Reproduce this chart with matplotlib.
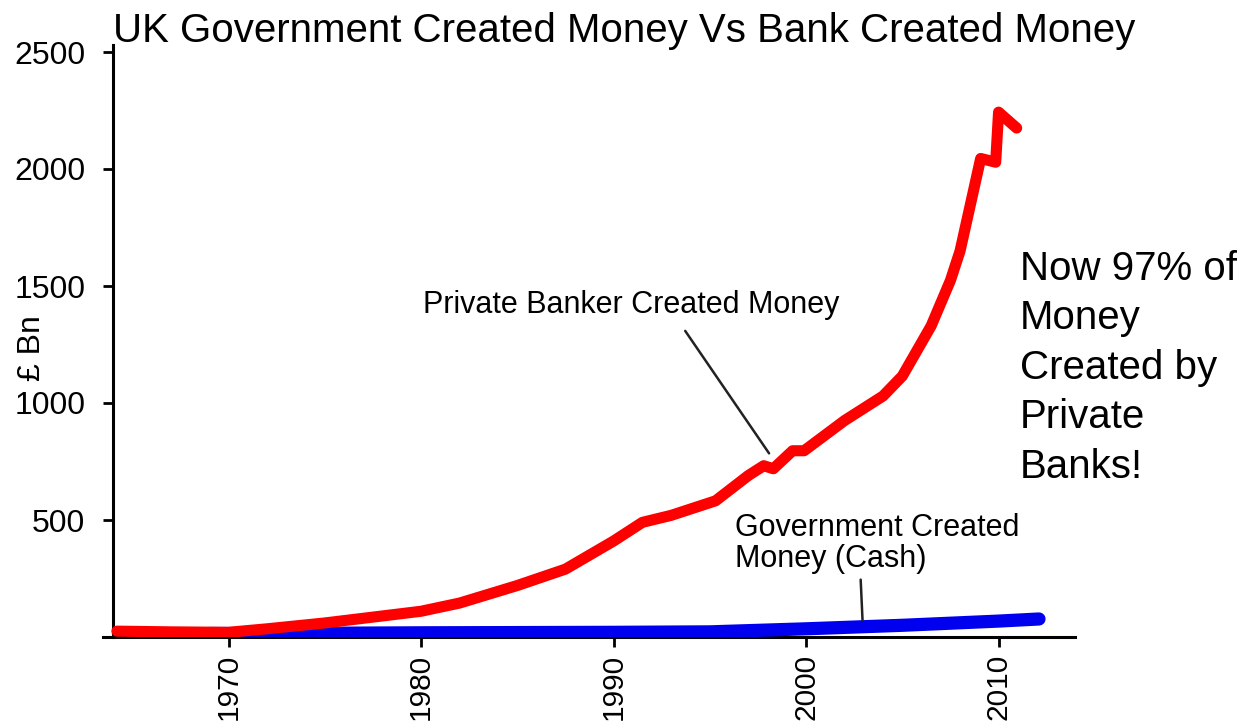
import matplotlib.pyplot as plt

plt.rcParams['font.family'] = ['Liberation Sans', 'DejaVu Sans']

# bank created money (broad money minus cash), £ Bn
bank_years = [1964.2, 1967, 1970, 1972, 1975, 1978, 1980, 1982, 1985, 1987.5,
              1990, 1991.5, 1993, 1995.3, 1997, 1997.8, 1998.3, 1999.3, 1999.9,
              2002, 2004, 2005, 2006.5, 2007.5, 2008, 2009.07, 2009.85, 2010.0, 2010.94]
bank_money = [25, 22, 20, 35, 60, 90, 110, 145, 220, 290,
              410, 490, 520, 582, 690, 732, 719, 796, 796,
              925, 1030, 1115, 1330, 1524, 1650, 2045, 2029, 2243, 2175]

# government created money (cash), £ Bn
gov_years = [1969, 1972, 1975, 1980, 1985, 1990, 1995, 2000, 2005, 2010, 2012.1]
gov_money = [15, 15, 16, 18, 19, 20, 22, 35, 50, 68, 77]

y_ticks = [500, 1000, 1500, 2000, 2500]
x_ticks = [1970, 1980, 1990, 2000, 2010]

fig = plt.figure(figsize=(12.5, 7.27), dpi=100)
ax = fig.add_axes([103.4 / 1250, 1 - 637 / 727, (1075 - 103.4) / 1250, (637 - 52) / 727])

ax.plot(gov_years, gov_money, color='#0000ee', lw=9.5, solid_capstyle='round', zorder=3)
ax.plot(bank_years, bank_money, color='#ff0000', lw=8, solid_capstyle='round',
        solid_joinstyle='round', zorder=4)

ax.set_xlim(1963.5, 2013.97)
ax.set_ylim(0, 2500)
ax.spines['left'].set_position(('data', 1964))
ax.spines['left'].set_bounds(0, 2530)
for s in ['top', 'right']:
    ax.spines[s].set_visible(False)
for s in ['left', 'bottom']:
    ax.spines[s].set_linewidth(2.2)
ax.set_yticks(y_ticks)
ax.set_xticks(x_ticks)
ax.set_xticklabels([str(t) for t in x_ticks], rotation=90)
ax.tick_params(axis='both', direction='out', length=7, width=2)
ax.tick_params(axis='y', pad=13, labelsize=23)
ax.tick_params(axis='x', pad=5, labelsize=21.5)
ax.set_ylabel('£ Bn', fontsize=23)
ax.yaxis.set_label_coords(-0.058, 0.494)

ax.text(1980.1, 1383, 'Private Banker Created Money', fontsize=22, va='baseline', ha='left')
ax.annotate('', xy=(1998.16, 775), xytext=(1993.64, 1318),
            arrowprops=dict(arrowstyle='-', color='#222222', lw=1.8))

ax.text(1996.3, 530, 'Government Created\nMoney (Cash)', fontsize=22, va='top', ha='left',
        linespacing=1.05)
ax.annotate('', xy=(2002.94, 60), xytext=(2002.83, 257),
            arrowprops=dict(arrowstyle='-', color='#222222', lw=1.8))

fig.text(1020 / 1250, 1 - 250 / 727, 'Now 97% of\nMoney\nCreated by\nPrivate\nBanks!',
         fontsize=29, va='top', ha='left', linespacing=1.38)

fig.text(113 / 1250, 1 - 42 / 727, 'UK Government Created Money Vs Bank Created Money',
         fontsize=29, va='baseline', ha='left')

fig.savefig('out.png', dpi=100)
